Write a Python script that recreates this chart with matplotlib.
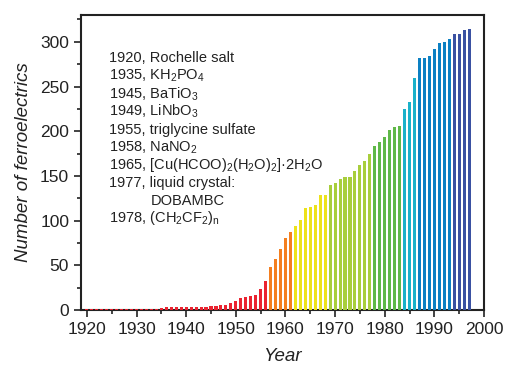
import matplotlib
matplotlib.use("Agg")
import matplotlib.pyplot as plt
from matplotlib.ticker import MultipleLocator

plt.rcParams["font.family"] = ["Liberation Sans", "DejaVu Sans"]
plt.rcParams["mathtext.fontset"] = "custom"
plt.rcParams["mathtext.rm"] = "Liberation Sans"
plt.rcParams["mathtext.it"] = "Liberation Sans:italic"

# Cumulative number of known ferroelectrics per year
years = list(range(1920, 1998))
counts = (
    [1] * 15                                   # 1920-1934
    + [2, 3, 3, 3, 3, 3, 3, 3, 3, 3]           # 1935-1944
    + [5, 5, 6, 6, 8, 10, 13, 14, 16, 17]      # 1945-1954
    + [24, 32, 48, 57, 68, 80, 87, 94, 101, 114]   # 1955-1964
    + [115, 117, 129, 129, 140, 142, 146, 149, 149, 156]  # 1965-1974
    + [162, 167, 174, 183, 188, 193, 201, 205, 206, 225]  # 1975-1984
    + [233, 259, 282, 282, 284, 292, 299, 300, 303, 309]  # 1985-1994
    + [309, 313, 314]                          # 1995-1997
)

# Colour bands along the timeline
bands = [
    (1920, 1956, "#ea2330"),
    (1957, 1961, "#f47f20"),
    (1962, 1968, "#ede21b"),
    (1969, 1977, "#a8ce3c"),
    (1978, 1983, "#5fb848"),
    (1984, 1986, "#1ab1c9"),
    (1987, 1993, "#0c80c3"),
    (1994, 1997, "#3a51a2"),
]


def band_color(y):
    for lo, hi, c in bands:
        if lo <= y <= hi:
            return c
    return "#888888"


colors = [band_color(y) for y in years]

milestones = [
    "1920, Rochelle salt",
    "1935, KH$_2$PO$_4$",
    "1945, BaTiO$_3$",
    "1949, LiNbO$_3$",
    "1955, triglycine sulfate",
    "1958, NaNO$_2$",
    "1965, [Cu(HCOO)$_2$(H$_2$O)$_2$]\u00b72H$_2$O",
    "1977, liquid crystal:",
    "DOBAMBC",
    "1978, (CH$_2$CF$_2$)$_\\mathrm{n}$",
]

fig = plt.figure(figsize=(5.06, 3.66), dpi=100)
ax = fig.add_axes([0.160, 0.153, 0.7965, 0.806])

ax.bar(years, counts, width=0.62, color=colors, edgecolor="none",
       zorder=3, clip_on=False)

ax.set_xlim(1918.8, 2000)
ax.set_ylim(0, 330)
ax.xaxis.set_major_locator(MultipleLocator(10))
ax.xaxis.set_minor_locator(MultipleLocator(5))
ax.yaxis.set_major_locator(MultipleLocator(50))
ax.yaxis.set_minor_locator(MultipleLocator(25))
ax.tick_params(which="both", direction="out", width=1.2, colors="#222222",
               labelsize=12.5, top=False, right=False)
ax.tick_params(which="major", length=5)
ax.tick_params(which="minor", length=3)
for s in ax.spines.values():
    s.set_linewidth(1.5)
    s.set_color("#222222")
    s.set_zorder(2)

ax.set_xlabel("Year", fontsize=13.5, style="italic", labelpad=8, color="#222222")
ax.set_ylabel("Number of ferroelectrics", fontsize=13.5, style="italic",
              labelpad=6, color="#222222")

y0, dy = 0.853, 0.0603
for i, line in enumerate(milestones):
    x = 0.173 if line == "DOBAMBC" else 0.070
    ax.text(x, y0 - i * dy, line, transform=ax.transAxes, fontsize=10.5,
            va="center", ha="left", color="#222222")

fig.savefig("out.png", dpi=100)
